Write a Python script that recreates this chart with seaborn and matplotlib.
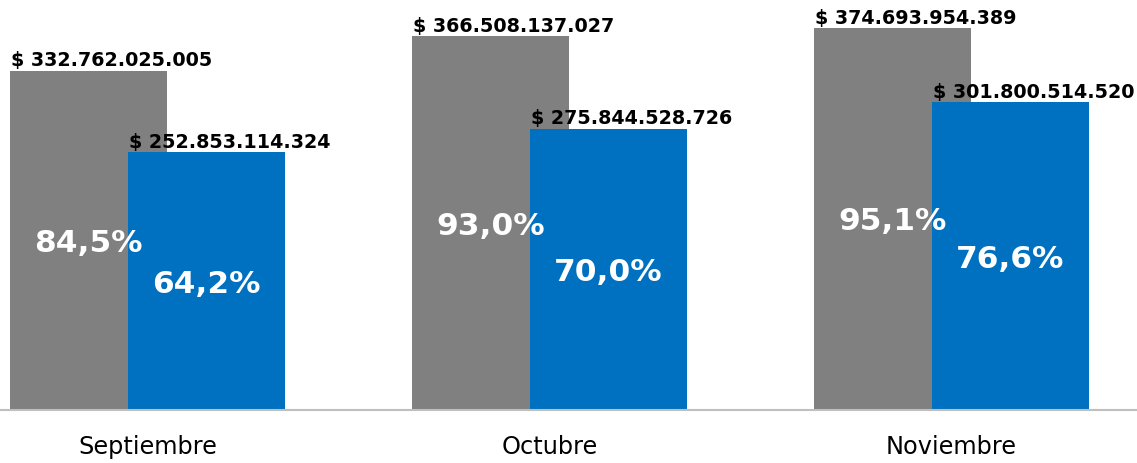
import numpy as np
import pandas as pd
import seaborn as sns
import matplotlib
matplotlib.use("Agg")
import matplotlib.pyplot as plt

# data
months = ["Septiembre", "Octubre", "Noviembre"]
presupuesto = [332762025005, 366508137027, 374693954389]
ejecutado = [252853114324, 275844528726, 301800514520]
pct_presupuesto = [84.5, 93.0, 95.1]
pct_ejecutado = [64.2, 70.0, 76.6]

grey = "#808080"
blue = "#0070C0"

sns.set_theme(style="white")
plt.rcParams["font.family"] = ["DejaVu Sans"]

fig = plt.figure(figsize=(11.37, 4.63), dpi=100)
ax = fig.add_axes([0, 53 / 463, 1, 410 / 463])

idx = np.arange(len(months))
offset = 0.1468
width = 0.3905

df_a = pd.DataFrame({"pos": idx - offset, "val": presupuesto})
df_b = pd.DataFrame({"pos": idx + offset, "val": ejecutado})

sns.barplot(data=df_a, x="pos", y="val", native_scale=True, width=width,
            color=grey, saturation=1, linewidth=0, errorbar=None, ax=ax)
sns.barplot(data=df_b, x="pos", y="val", native_scale=True, width=width,
            color=blue, saturation=1, linewidth=0, errorbar=None, ax=ax)

def money(v):
    return "$ " + f"{v:,}".replace(",", ".")

def pct(p):
    return f"{p:.1f}%".replace(".", ",")

for series, pcts, sign in [(presupuesto, pct_presupuesto, -1), (ejecutado, pct_ejecutado, 1)]:
    for i, (v, p) in enumerate(zip(series, pcts)):
        left = idx[i] + sign * offset - width / 2
        center = idx[i] + sign * offset
        ax.annotate(money(v), xy=(left, v), xytext=(0.5, 3), textcoords="offset points",
                    ha="left", va="baseline", fontsize=13.8, fontweight="bold",
                    color="black", annotation_clip=False)
        ax.annotate(pct(p), xy=(center, v / 2), xytext=(0, -8.3), textcoords="offset points",
                    ha="center", va="baseline", fontsize=22.5, fontweight="bold",
                    color="white")

ax.set_xlim(-0.3669, 2.4614)
ax.set_ylim(0, 4.02e11)
ax.set_xticks(idx)
ax.set_xticklabels(months, fontsize=17.3, color="black")
ax.tick_params(axis="x", length=0, pad=18)
ax.set_yticks([])
ax.set_xlabel("")
ax.set_ylabel("")
for s in ["top", "left", "right"]:
    ax.spines[s].set_visible(False)
ax.spines["bottom"].set_color("#BFBFBF")
ax.spines["bottom"].set_linewidth(1.5)
ax.set_facecolor("white")

fig.savefig("out.png", dpi=100)
